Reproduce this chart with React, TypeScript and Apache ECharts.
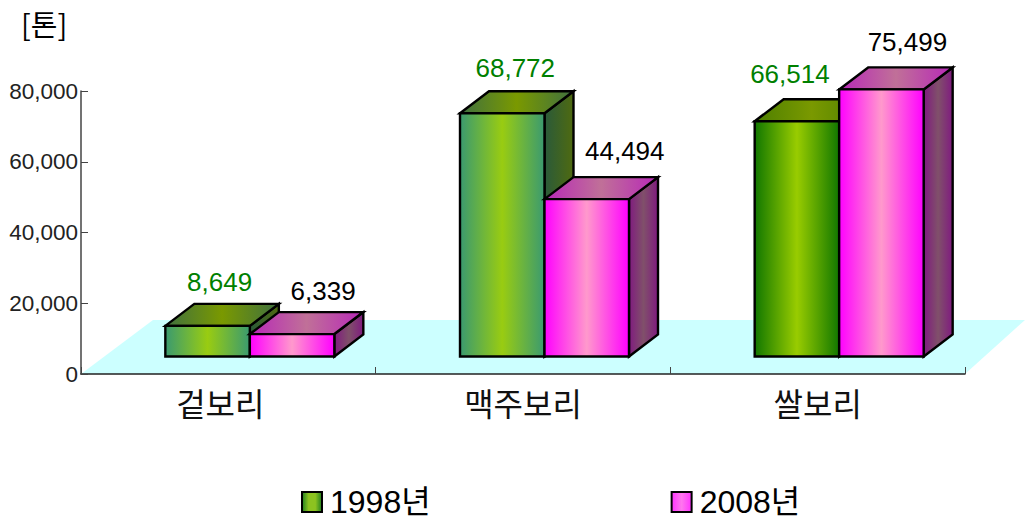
import React, { useEffect, useRef } from "react";
import * as echarts from "echarts";

const categories = ["겉보리", "맥주보리", "쌀보리"];
const seriesNames = ["1998년", "2008년"];
const values1998 = [8649, 68772, 66514];
const values2008 = [6339, 44494, 75499];
const yTicks = { min: 0, max: 80000, interval: 20000 };

// label nudges relative to each bar's centre and back-top edge
const labelNudge1998 = [[12, -22], [13, -23], [-7, -25]];
const labelNudge2008 = [[31, -21], [38, -26], [26, -25]];

const BAR_W = 84.5;
const DEPTH_X = 29;
const DEPTH_Y = 22;
const FLOOR_Y = 17.5;
const SHIFT_X = 21.5;

const grad = (stops: string[]) =>
  new echarts.graphic.LinearGradient(0, 0, 1, 0, stops.map((color, i) => ({ offset: i / (stops.length - 1), color })));

const paletteGreen = [
  { front: ["#3a9a70", "#99cc11", "#3a9a70"], top: ["#3f7040", "#7a9900", "#3f7040"], side: ["#2a5a3a", "#4f6a10"] },
  { front: ["#3a9a70", "#99cc11", "#3a9a70"], top: ["#3f7040", "#7a9900", "#3f7040"], side: ["#2a5a3a", "#4f6a10"] },
  { front: ["#117700", "#99cc00", "#117700"], top: ["#4d7f00", "#7a9900", "#4d7f00"], side: ["#2a5a3a", "#4f6a10"] },
];
const palettePink = [
  { front: ["#ff00ff", "#ff99cc", "#ff00ff"], top: ["#b828b8", "#c07098", "#b828b8"], side: ["#801a80", "#80506a", "#801a80"] },
  { front: ["#ff00ff", "#ff99cc", "#ff00ff"], top: ["#b828b8", "#c07098", "#b828b8"], side: ["#801a80", "#80506a", "#801a80"] },
  { front: ["#ff00ff", "#ff99cc", "#ff00ff"], top: ["#b828b8", "#c07098", "#b828b8"], side: ["#801a80", "#80506a", "#801a80"] },
];

const makeRender = (side: "left" | "right", palette: any[], nudges: number[][], labelColor: string) =>
  (params: any, api: any) => {
    const idx = api.value(0);
    const v = api.value(1);
    const base = api.coord([idx, 0]);
    const top = api.coord([idx, v]);
    const x0 = base[0] + SHIFT_X - (side === "left" ? BAR_W : 0);
    const x1 = x0 + BAR_W;
    const yB = base[1] - FLOOR_Y;
    const yT = top[1] - FLOOR_Y;
    const p = palette[params.dataIndex];
    const line = { stroke: "#000", lineWidth: 2.4, lineJoin: "miter" };
    const nudge = nudges[params.dataIndex];
    return {
      type: "group",
      children: [
        {
          type: "polygon",
          shape: { points: [[x1, yT], [x1 + DEPTH_X, yT - DEPTH_Y], [x1 + DEPTH_X, yB - DEPTH_Y], [x1, yB]] },
          style: { fill: grad(p.side), ...line },
        },
        {
          type: "polygon",
          shape: { points: [[x0, yT], [x0 + DEPTH_X, yT - DEPTH_Y], [x1 + DEPTH_X, yT - DEPTH_Y], [x1, yT]] },
          style: { fill: grad(p.top), ...line },
        },
        {
          type: "rect",
          shape: { x: x0, y: yT, width: BAR_W, height: yB - yT },
          style: { fill: grad(p.front), ...line },
        },
        {
          type: "text",
          x: (x0 + x1) / 2 + nudge[0],
          y: yT - DEPTH_Y + nudge[1],
          style: {
            text: echarts.format.addCommas(v),
            fill: labelColor,
            font: '26px "Liberation Sans"',
            align: "center",
            verticalAlign: "middle",
          },
        },
      ],
    };
  };

export default function App() {
  const ref = useRef<HTMLDivElement>(null);
  useEffect(() => {
    document.body.style.margin = "0";
    document.body.style.overflow = "hidden";
    const chart = echarts.init(ref.current!, null, { renderer: "svg" });
    const axisFont = '"Noto Sans CJK KR"';
    chart.setOption({
      animation: false,
      backgroundColor: "#fff",
      grid: { left: 81, right: 60, top: 91, bottom: 145 },
      legend: {
        data: seriesNames.map((name, i) => ({
          name,
          itemStyle: {
            color: i === 0 ? grad(["#1f7f20", "#8cc320", "#8cc320", "#1f7f20"]) : grad(["#ff33ff", "#ff77ee", "#ff33ff"]),
            borderColor: "#000",
            borderWidth: 2,
          },
        })),
        left: 301,
        top: 486,
        padding: 0,
        itemWidth: 20,
        itemHeight: 20,
        itemGap: 240,
        icon: "rect",
        textStyle: {
          fontFamily: '"Liberation Sans", "Noto Sans CJK KR"',
          fontSize: 32,
          color: "#000",
          padding: [0, 0, 0, 3],
        },
      },
      xAxis: {
        type: "category",
        data: categories,
        axisLine: { lineStyle: { color: "#222", width: 1.5 } },
        axisTick: { show: true, alignWithLabel: false, inside: true, length: 7, lineStyle: { color: "#444" } },
        axisLabel: {
          margin: 12,
          fontFamily: axisFont,
          fontSize: 32,
          color: "#111",
          formatter: (v: string) => (v === categories[0] ? `{first|${v}}` : v),
          rich: { first: { fontFamily: axisFont, fontSize: 32, color: "#111", padding: [0, 16, 0, 0] } },
        },
      },
      yAxis: {
        type: "value",
        ...yTicks,
        splitLine: { show: false },
        axisLine: { show: true, lineStyle: { color: "#444", width: 1.5 } },
        axisTick: { show: true, inside: true, length: 7, lineStyle: { color: "#444" } },
        axisLabel: {
          margin: 3,
          fontFamily: '"Liberation Sans"',
          fontSize: 22.5,
          color: "#222",
          formatter: (v: number) => echarts.format.addCommas(v),
        },
      },
      graphic: [
        {
          type: "polygon",
          z: -1,
          shape: { points: [[81, 374], [153, 320], [1025, 320], [965, 374]] },
          style: { fill: "#ccffff" },
        },
        {
          type: "text",
          x: 21,
          y: 8,
          style: { text: "[톤]", fill: "#000", font: `29px ${axisFont}` },
        },
      ],
      series: [
        {
          name: seriesNames[0],
          type: "custom",
          clip: false,
          encode: { x: 0, y: 1 },
          data: values1998.map((v, i) => [i, v]),
          renderItem: makeRender("left", paletteGreen, labelNudge1998, "#008000"),
        },
        {
          name: seriesNames[1],
          type: "custom",
          clip: false,
          encode: { x: 0, y: 1 },
          data: values2008.map((v, i) => [i, v]),
          renderItem: makeRender("right", palettePink, labelNudge2008, "#000"),
        },
      ],
    });
    return () => chart.dispose();
  }, []);
  return <div ref={ref} style={{ width: 1025, height: 519, display: "block" }} />;
}
